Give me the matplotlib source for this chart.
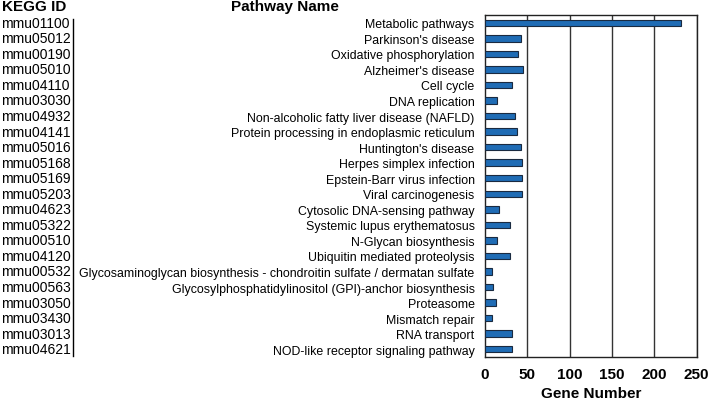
import matplotlib
matplotlib.use("Agg")
import matplotlib.pyplot as plt
import matplotlib.transforms as mtransforms

plt.rcParams['font.family'] = ['Liberation Sans', 'DejaVu Sans']

kegg_ids = ["mmu01100", "mmu05012", "mmu00190", "mmu05010", "mmu04110", "mmu03030",
            "mmu04932", "mmu04141", "mmu05016", "mmu05168", "mmu05169", "mmu05203",
            "mmu04623", "mmu05322", "mmu00510", "mmu04120", "mmu00532", "mmu00563",
            "mmu03050", "mmu03430", "mmu03013", "mmu04621"]
pathways = ["Metabolic pathways", "Parkinson's disease", "Oxidative phosphorylation",
            "Alzheimer's disease", "Cell cycle", "DNA replication",
            "Non-alcoholic fatty liver disease (NAFLD)", "Protein processing in endoplasmic reticulum",
            "Huntington's disease", "Herpes simplex infection", "Epstein-Barr virus infection",
            "Viral carcinogenesis", "Cytosolic DNA-sensing pathway", "Systemic lupus erythematosus",
            "N-Glycan biosynthesis", "Ubiquitin mediated proteolysis",
            "Glycosaminoglycan biosynthesis - chondroitin sulfate / dermatan sulfate",
            "Glycosylphosphatidylinositol (GPI)-anchor biosynthesis", "Proteasome",
            "Mismatch repair", "RNA transport", "NOD-like receptor signaling pathway"]
gene_numbers = [232, 42, 39, 45, 32, 14, 36, 38, 42, 44, 44, 44, 17, 30, 14, 29, 8, 9, 13, 8, 32, 32]
x_ticks = [0, 50, 100, 150, 200, 250]

W, H = 709, 402
fig = plt.figure(figsize=(W / 100, H / 100), dpi=100)
ax = fig.add_axes([485 / W, (H - 358) / H, (696.7 - 485) / W, (358 - 16) / H])

n = len(pathways)
ys = list(range(n))
ax.barh(ys, gene_numbers, height=0.42, color='#1f6cb5', edgecolor='#1a2a40', linewidth=0.8, zorder=3)
ax.set_ylim(n - 0.5, -0.5)
ax.set_xlim(0, 250)
ax.set_xticks(x_ticks)
ax.set_xticklabels([str(t) for t in x_ticks], fontsize=11, fontweight='bold')
ax.tick_params(axis='x', length=0, pad=7)
ax.set_yticks(ys)
ax.set_yticklabels(pathways, fontsize=8.9)
ax.tick_params(axis='y', length=0, pad=7.5)
for v in x_ticks[1:]:
    ax.axvline(v, color='#333333', linewidth=1.0, zorder=1)
for s in ax.spines.values():
    s.set_color('#222222')
    s.set_linewidth(1.0)
ax.set_xlabel('Gene Number', fontsize=11, fontweight='bold', labelpad=4)

trans = mtransforms.blended_transform_factory(fig.transFigure, ax.transData)
for y, kid in zip(ys, kegg_ids):
    ax.text(1 / W, y, kid, transform=trans, ha='left', va='center', fontsize=10, clip_on=False)
fig.add_artist(plt.Line2D([73 / W, 73 / W], [(H - 20) / H, (H - 357) / H], color='black', linewidth=1.0))

fig.text(34 / W, (H - 7) / H, 'KEGG ID', ha='center', va='center', fontsize=11, fontweight='bold')
fig.text(231 / W, (H - 7) / H, 'Pathway Name', ha='left', va='center', fontsize=11, fontweight='bold')

fig.savefig('out.png', dpi=100)
